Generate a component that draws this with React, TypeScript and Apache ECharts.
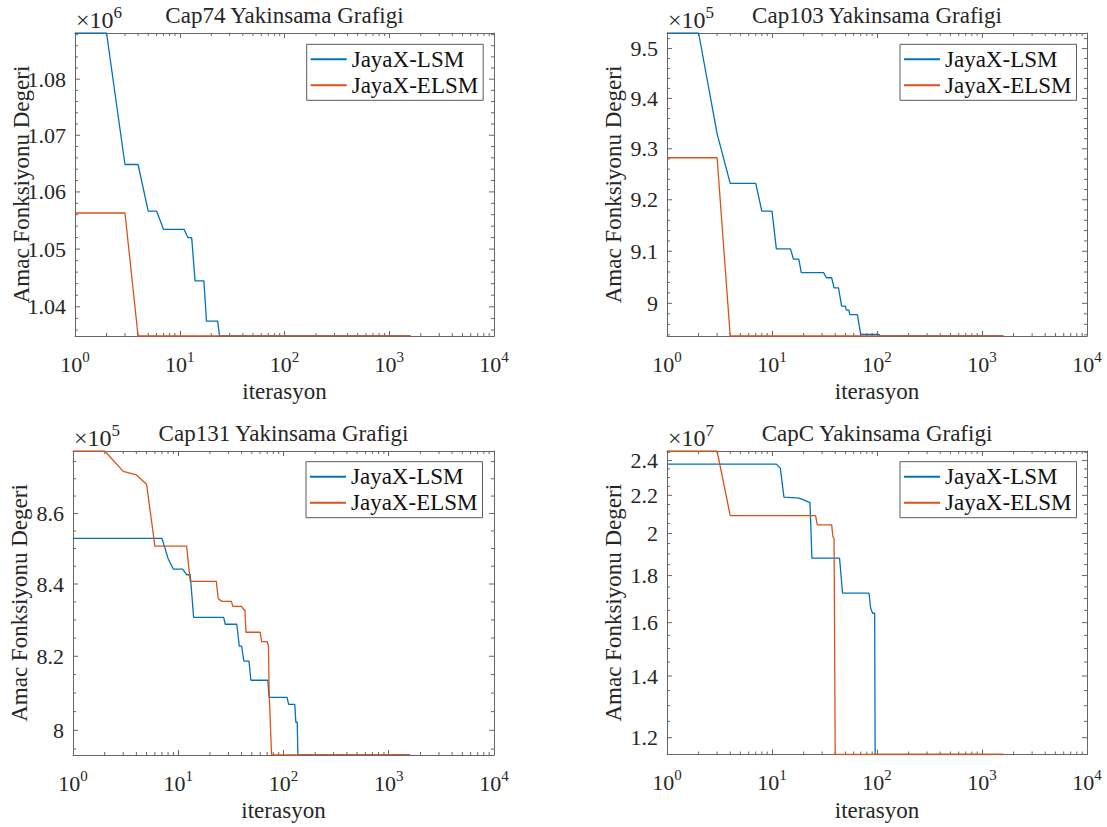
import React, { useEffect, useRef } from 'react';
import * as echarts from 'echarts';

const FONT = "'Liberation Serif', 'Times New Roman', serif";
const TEXT = '#262626';
const AXIS = '#666666';
const BLUE = '#0072BD';
const ORANGE = '#D95319';

const seriesNames = ['JayaX-LSM', 'JayaX-ELSM'];
const titles = ['Cap74 Yakinsama Grafigi', 'Cap103 Yakinsama Grafigi', 'Cap131 Yakinsama Grafigi', 'CapC Yakinsama Grafigi'];
const xLabel = 'iterasyon';
const yLabel = 'Amac Fonksiyonu Degeri';
const xMinorMultipliers = [2, 3, 4, 5, 6, 7, 8, 9];
const xDecades = [1, 10, 100, 1000];

// ---- Cap74 ----
const cap74Min = 1034976.975;
const cap74Max = 1088300;
const cap74LSM: [number, number][] = [
  [1, 1088300], [2, 1088300], [3, 1064830], [4, 1064830], [5, 1056640], [6, 1056640],
  [7, 1053450], [11, 1053450], [12, 1051980], [13, 1051980], [14, 1044480], [17, 1044480],
  [18, 1037520], [23, 1037520], [24, 1034976.975], [1600, 1034976.975],
];
const cap74ELSM: [number, number][] = [
  [1, 1056300], [3, 1056300], [4, 1034976.975], [1600, 1034976.975],
];
const cap74Ticks = [1.04, 1.05, 1.06, 1.07, 1.08];

// ---- Cap103 ----
const cap103Min = 893782.1125;
const cap103Max = 953140;
const cap103LSM: [number, number][] = [
  [1, 953140], [2, 953140], [3, 933000], [4, 923200], [7, 923200], [8, 917770], [10, 917770],
  [11, 910450], [15, 910450], [16, 908500], [18, 908500], [19, 905880], [31, 905880],
  [33, 904900], [37, 904900], [39, 902940], [43, 902940], [46, 899470], [50, 899470],
  [51, 898700], [54, 898700], [55, 897840], [65, 897840], [70, 894100], [105, 894100],
  [106, 893782.1125], [1600, 893782.1125],
];
const cap103ELSM: [number, number][] = [
  [1, 928240], [3, 928240], [4, 893782.1125], [1600, 893782.1125],
];
const cap103Ticks = [9, 9.1, 9.2, 9.3, 9.4, 9.5];

// ---- Cap131 ----
const cap131Min = 793439.5625;
const cap131Max = 878100;
const cap131LSM: [number, number][] = [
  [1, 852900], [7, 852900], [8, 847200], [9, 844160], [11, 844160], [12, 842600], [13, 842600],
  [14, 830680], [27, 830680], [28, 828800], [36, 828800], [38, 822800], [40, 822800],
  [42, 818700], [47, 818700], [49, 813470], [71, 813470], [73, 808840], [108, 808840],
  [112, 806970], [128, 806970], [131, 802150], [135, 802150], [137, 793439.5625],
  [1600, 793439.5625],
];
const cap131ELSM: [number, number][] = [
  [1, 878100], [2, 878100], [3, 872160], [4, 871130], [5, 868430], [6, 850680], [12, 850680],
  [13, 840730], [23, 840730], [24, 835900], [26, 835150], [32, 835150], [33, 833750],
  [40, 833750], [42, 832800], [43, 832800], [44, 826600], [60, 826600], [62, 823990],
  [70, 823990], [72, 822800], [73, 810500], [77, 793439.5625], [1600, 793439.5625],
];
const cap131Ticks = [8, 8.2, 8.4, 8.6];

// ---- CapC ----
const capCMin = 11505594.33;
const capCMax = 24580000;
const capCLSM: [number, number][] = [
  [1, 23785000], [11, 23785000], [12, 23548000], [13, 21900000], [18, 21850000],
  [20, 21753000], [23, 21606000], [24, 18800000], [44, 18800000], [47, 17223000],
  [84, 17223000], [87, 16588000], [91, 16380000], [95, 16380000], [96, 11505594.33],
  [1600, 11505594.33],
];
const capCELSM: [number, number][] = [
  [1, 24580000], [3, 24580000], [4, 20912000], [26, 20912000], [27, 20434000],
  [37, 20434000], [38, 19850000], [39, 19750000], [40, 11505594.33], [1600, 11505594.33],
];
const capCTicks = [1.2, 1.4, 1.6, 1.8, 2, 2.2, 2.4];

interface Panel {
  title: string;
  lsm: [number, number][];
  elsm: [number, number][];
  yMin: number;
  yMax: number;
  exp: number;
  ticks: number[];
  minorStep: number;
  box: [number, number, number, number];
  legendPos: [number, number];
  titleTop: number;
  expTop: number;
}

const panels: Panel[] = [
  { title: titles[0], lsm: cap74LSM, elsm: cap74ELSM, yMin: cap74Min, yMax: cap74Max, exp: 6, ticks: cap74Ticks, minorStep: 0.002, box: [75, 33, 419, 303], legendPos: [306.7, 44.3], titleTop: 4, expTop: 4 },
  { title: titles[1], lsm: cap103LSM, elsm: cap103ELSM, yMin: cap103Min, yMax: cap103Max, exp: 5, ticks: cap103Ticks, minorStep: 0.02, box: [667, 33, 420, 303], legendPos: [900, 44.3], titleTop: 4, expTop: 4 },
  { title: titles[2], lsm: cap131LSM, elsm: cap131ELSM, yMin: cap131Min, yMax: cap131Max, exp: 5, ticks: cap131Ticks, minorStep: 0.05, box: [73, 451, 421, 304], legendPos: [306, 461.7], titleTop: 422, expTop: 422 },
  { title: titles[3], lsm: capCLSM, elsm: capCELSM, yMin: capCMin, yMax: capCMax, exp: 7, ticks: capCTicks, minorStep: 0.05, box: [667, 451, 420, 303.5], legendPos: [900, 461.7], titleTop: 422, expTop: 422 },
];

function tickItems(p: Panel): number[][] {
  const scale = Math.pow(10, p.exp);
  const items: number[][] = [];
  xDecades.forEach((d) => xMinorMultipliers.forEach((m) => items.push([m * d, p.yMin, 0, 0])));
  p.ticks.forEach((t) => items.push([1, t * scale, 1, t]));
  const lo = Math.ceil(p.yMin / scale / p.minorStep - 1e-9);
  const hi = Math.floor(p.yMax / scale / p.minorStep + 1e-9);
  for (let k = lo; k <= hi; k++) {
    const v = Math.round(k * p.minorStep * 1e6) / 1e6;
    if (p.ticks.some((t) => Math.abs(t - v) < 1e-9)) continue;
    items.push([1, v * scale, 2, v]);
  }
  return items;
}

function renderTicks(params: any, api: any) {
  const cs = params.coordSys;
  const kind = api.value(2);
  const pt = api.coord([api.value(0), api.value(1)]);
  const st = { stroke: AXIS, lineWidth: 1 };
  if (kind === 0) {
    const L = 3;
    const bottom = cs.y + cs.height;
    return {
      type: 'group',
      children: [
        { type: 'line', shape: { x1: pt[0], y1: bottom, x2: pt[0], y2: bottom - L }, style: st },
        { type: 'line', shape: { x1: pt[0], y1: cs.y, x2: pt[0], y2: cs.y + L }, style: st },
      ],
    };
  }
  const L = kind === 1 ? 5 : 3;
  const right = cs.x + cs.width;
  const children: any[] = [
    { type: 'line', shape: { x1: cs.x, y1: pt[1], x2: cs.x + L, y2: pt[1] }, style: st },
    { type: 'line', shape: { x1: right, y1: pt[1], x2: right - L, y2: pt[1] }, style: st },
  ];
  if (kind === 1) {
    children.push({
      type: 'text',
      x: cs.x - 9,
      y: pt[1],
      style: {
        text: String(api.value(3)),
        fill: TEXT,
        fontSize: 22,
        fontFamily: FONT,
        align: 'right',
        verticalAlign: 'middle',
      },
    });
  }
  return { type: 'group', children };
}

function buildOption() {
  const grid: any[] = [];
  const xAxis: any[] = [];
  const yAxis: any[] = [];
  const series: any[] = [];
  const title: any[] = [];
  const legend: any[] = [];
  const axisLine = { show: true, lineStyle: { color: AXIS, width: 1 } };
  const nameStyle = { fontSize: 23, fontFamily: FONT, color: TEXT };
  const labelRich = {
    b: { fontSize: 22, fontFamily: FONT, color: TEXT, lineHeight: 26, verticalAlign: 'bottom' },
    s: { fontSize: 15, fontFamily: FONT, color: TEXT, lineHeight: 14, verticalAlign: 'top' },
  };
  const expRich = {
    e: { fontSize: 24, fontFamily: FONT, color: TEXT, lineHeight: 28, verticalAlign: 'bottom' },
    p: { fontSize: 17, fontFamily: FONT, color: TEXT, lineHeight: 16, verticalAlign: 'top' },
  };

  panels.forEach((p, i) => {
    const [left, top, width, height] = p.box;
    grid.push({ left, top, width, height, containLabel: false });
    title.push({
      text: p.title,
      left: left + width / 2,
      top: p.titleTop,
      textAlign: 'center',
      padding: 0,
      textStyle: { fontSize: 23, fontWeight: 'normal', fontFamily: FONT, color: TEXT },
    });
    title.push({
      text: `{e|×10}{p|${p.exp}}`,
      left: left + 1,
      top: p.expTop,
      padding: 0,
      textStyle: { fontSize: 24, fontWeight: 'normal', fontFamily: FONT, color: TEXT, lineHeight: 28, rich: expRich },
    });
    xAxis.push({
      gridIndex: i, type: 'log', logBase: 10, min: 1, max: 10000, position: 'bottom',
      name: xLabel, nameLocation: 'middle', nameGap: 44, nameTextStyle: nameStyle,
      axisLine, axisTick: { show: true, inside: true, length: 5, lineStyle: { color: AXIS, width: 1 } },
      axisLabel: {
        margin: 13,
        fontSize: 22, fontFamily: FONT, color: TEXT, lineHeight: 26,
        formatter: (v: number) => `{b|10}{s|${Math.round(Math.log10(v))}}`,
        rich: labelRich,
      },
      splitLine: { show: false },
    });
    xAxis.push({
      gridIndex: i, type: 'log', logBase: 10, min: 1, max: 10000, position: 'top',
      axisLine, axisTick: { show: true, inside: true, length: 5, lineStyle: { color: AXIS, width: 1 } },
      axisLabel: { show: false }, splitLine: { show: false },
    });
    yAxis.push({
      gridIndex: i, type: 'log', logBase: 10, min: p.yMin, max: p.yMax, position: 'left',
      name: yLabel, nameLocation: 'middle', nameGap: 42, nameTextStyle: nameStyle,
      axisLine, axisTick: { show: false }, axisLabel: { show: false }, splitLine: { show: false },
    });
    yAxis.push({
      gridIndex: i, type: 'log', logBase: 10, min: p.yMin, max: p.yMax, position: 'right',
      axisLine, axisTick: { show: false }, axisLabel: { show: false }, splitLine: { show: false },
    });
    series.push({
      name: seriesNames[0], type: 'line', xAxisIndex: 2 * i, yAxisIndex: 2 * i,
      data: p.lsm, showSymbol: false, symbol: 'none',
      lineStyle: { color: BLUE, width: 1.3 }, itemStyle: { color: BLUE }, z: 4,
    });
    series.push({
      name: seriesNames[1], type: 'line', xAxisIndex: 2 * i, yAxisIndex: 2 * i,
      data: p.elsm, showSymbol: false, symbol: 'none',
      lineStyle: { color: ORANGE, width: 1.3 }, itemStyle: { color: ORANGE }, z: 5,
    });
    series.push({
      name: 'ticks' + i, type: 'custom', xAxisIndex: 2 * i, yAxisIndex: 2 * i,
      data: tickItems(p), renderItem: renderTicks, silent: true, clip: false, z: 3,
    });
    legend.push({
      data: seriesNames,
      left: p.legendPos[0], top: p.legendPos[1],
      orient: 'vertical', icon: 'rect', itemWidth: 36, itemHeight: 2, itemGap: 3,
      padding: [3.5, 5, 3.5, 4],
      borderColor: '#5a5a5a', borderWidth: 1, backgroundColor: '#fff',
      selectedMode: false,
      textStyle: { fontSize: 23, fontFamily: FONT, color: '#111', lineHeight: 23 },
    });
  });

  return { animation: false, backgroundColor: '#fff', title, legend, grid, xAxis, yAxis, series };
}

export default function App() {
  const ref = useRef<HTMLDivElement>(null);
  useEffect(() => {
    const chart = echarts.init(ref.current as HTMLDivElement, null, { renderer: 'svg' });
    chart.setOption(buildOption() as any);
    return () => chart.dispose();
  }, []);
  return (
    <div
      ref={ref}
      style={{ position: 'fixed', left: 0, top: 0, width: 1107, height: 827, background: '#fff' }}
    />
  );
}
